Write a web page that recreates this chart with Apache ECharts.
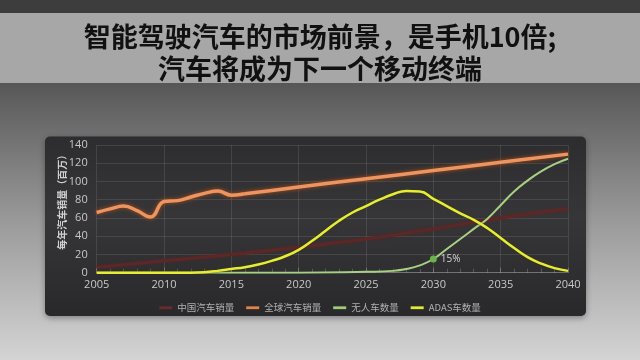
<!DOCTYPE html>
<html>
<head>
<meta charset="utf-8">
<script src="https://cdn.jsdelivr.net/npm/echarts@6/dist/echarts.min.js"></script>
<style>
  html, body { margin: 0; padding: 0; background: #3d3d3d; }
  #chart { width: 640px; height: 360px; }
</style>
</head>
<body>
<div id="chart"></div>
<script>
// Yearly sales of cars (millions), history and projection
const chinaSales = [[2005, 6], [2010, 13], [2015, 20], [2020, 28], [2025, 37], [2030, 48], [2035, 60], [2040, 70]];
const globalSales = [
  [2005, 66], [2006, 70], [2007, 73], [2008, 68], [2009, 61], [2010, 78], [2011, 79],
  [2012, 83], [2013, 87], [2014, 89.5], [2015, 85], [2016, 86.5], [2020, 94],
  [2025, 103], [2030, 112], [2035, 121], [2040, 130]
];
const driverlessCars = [
  [2005, 0], [2020, 0], [2025, 1], [2027, 2], [2028, 4], [2029, 8], [2030, 15],
  [2031, 26], [2032, 37], [2033, 48], [2034, 59], [2035, 74], [2036, 89],
  [2037, 101], [2038, 111], [2039, 119], [2040, 125]
];
const adasCars = [
  [2005, 0], [2012, 0], [2013, 0.5], [2014, 2], [2015, 4], [2016, 6], [2017, 9],
  [2018, 13], [2019, 18], [2020, 25], [2021, 35], [2022, 46], [2023, 57], [2024, 66],
  [2025, 73], [2026, 80], [2027, 86], [2028, 89.5], [2029, 89], [2030, 81], [2031, 73],
  [2032, 65], [2033, 58], [2034, 49], [2035, 38], [2036, 27], [2037, 17], [2038, 10],
  [2039, 5], [2040, 2]
];
const driverlessNote = { year: 2030, value: 15, text: '15%' };
const seriesNames = ['中国汽车销量', '全球汽车销量', '无人车数量', 'ADAS车数量'];
const titleText = '智能驾驶汽车的市场前景，是手机10倍;\n汽车将成为下一个移动终端';
const yAxisName = '每年汽车销量（百万）';

const latin = "'Open Sans','Noto Sans CJK SC',sans-serif";
const cjk = "'Noto Sans CJK SC','Noto Sans',sans-serif";
const lineIcon = 'path://M0,0 L14,0 L14,3 L0,3 Z';

const chart = echarts.init(document.getElementById('chart'), null, { renderer: 'canvas' });

chart.setOption({
  animation: false,
  title: {
    text: titleText,
    left: 'center',
    top: 16,
    textStyle: { fontFamily: cjk, fontSize: 27, fontWeight: 'bold', color: '#111', lineHeight: 32 }
  },
  graphic: [
    { type: 'rect', z: -10, shape: { x: 0, y: 0, width: 640, height: 360 }, style: { fill: '#3d3d3d' } },
    { type: 'rect', z: -10, shape: { x: 0, y: 13, width: 640, height: 70 }, style: { fill: '#a7a7a7' } },
    {
      type: 'rect', z: -10, shape: { x: 0, y: 83, width: 640, height: 277 },
      style: {
        fill: new echarts.graphic.LinearGradient(0, 0, 0, 1, [
          { offset: 0, color: '#575757' },
          { offset: 0.5, color: '#9a9a9a' },
          { offset: 1, color: '#d4d4d4' }
        ])
      }
    },
    {
      type: 'rect', z: -9, shape: { x: 45, y: 136.5, width: 541, height: 179.5, r: 5 },
      style: {
        fill: new echarts.graphic.LinearGradient(0, 0, 0, 1, [
          { offset: 0, color: '#2d2d2f' },
          { offset: 0.45, color: '#363638' },
          { offset: 1, color: '#29292b' }
        ]),
        shadowBlur: 6, shadowColor: 'rgba(0,0,0,0.35)', shadowOffsetY: 2
      }
    }
  ],
  grid: { left: 96.7, right: 72, top: 145, bottom: 87.3 },
  legend: {
    data: seriesNames.map(function (n) { return { name: n, icon: lineIcon }; }),
    left: 'center',
    top: 298,
    itemWidth: 13,
    itemHeight: 3,
    itemGap: 12,
    textStyle: { color: '#b0b0b0', fontSize: 9.5, fontFamily: cjk }
  },
  xAxis: {
    type: 'value',
    min: 2005,
    max: 2040,
    interval: 5,
    axisLine: { show: true, lineStyle: { color: 'rgba(255,255,255,0.25)' } },
    axisTick: { show: true, inside: true, length: 5, lineStyle: { color: 'rgba(255,255,255,0.25)' } },
    minorTick: { show: true, splitNumber: 5, length: 4, lineStyle: { color: 'rgba(255,255,255,0.2)' } },
    axisLabel: { color: '#c8c8c8', fontSize: 11, margin: 7, fontFamily: latin, formatter: function (v) { return String(v); } },
    splitLine: { show: true, lineStyle: { color: 'rgba(255,255,255,0.1)' } }
  },
  yAxis: {
    type: 'value',
    min: 0,
    max: 140,
    interval: 20,
    name: yAxisName,
    nameLocation: 'middle',
    nameGap: 29,
    nameRotate: 90,
    nameMoveOverlap: false,
    nameTextStyle: { color: '#d0d0d0', fontSize: 10, fontWeight: 'bold', fontFamily: cjk, padding: [0, 0, 0, 18] },
    axisLine: { show: false },
    axisTick: { show: false },
    axisLabel: { color: '#c8c8c8', fontSize: 11, margin: 9, fontFamily: latin },
    splitLine: { show: true, lineStyle: { color: 'rgba(255,255,255,0.1)' } }
  },
  series: [
    {
      name: seriesNames[0], type: 'line', data: chinaSales, symbol: 'none', smooth: 0.4,
      itemStyle: { color: '#6a2b2c' },
      lineStyle: { color: '#5c2727', width: 3, shadowBlur: 3, shadowColor: 'rgba(100,35,35,0.7)' },
      z: 2
    },
    {
      name: seriesNames[1], type: 'line', data: globalSales, symbol: 'none', smooth: 0.45,
      itemStyle: { color: '#e2834a' },
      lineStyle: { color: '#ec9560', width: 3.5, shadowBlur: 4, shadowColor: 'rgba(190,80,20,0.9)' },
      z: 3
    },
    {
      name: seriesNames[2], type: 'line', data: driverlessCars, symbol: 'none', smooth: 0.5,
      itemStyle: { color: '#9fcb7a' },
      lineStyle: { color: '#a8d084', width: 2 },
      markPoint: {
        symbol: 'circle',
        symbolSize: 7,
        itemStyle: { color: '#6cb24a' },
        label: { show: true, position: 'right', distance: 4, formatter: driverlessNote.text, color: '#d4d4d4', fontSize: 10, fontFamily: latin },
        data: [{ coord: [driverlessNote.year, driverlessNote.value] }]
      },
      z: 4
    },
    {
      name: seriesNames[3], type: 'line', data: adasCars, symbol: 'none', smooth: 0.5,
      itemStyle: { color: '#e4ea34' },
      lineStyle: { color: '#e6ec38', width: 2.5, shadowBlur: 2, shadowColor: 'rgba(60,60,0,0.8)' },
      z: 5
    }
  ]
});
</script>
</body>
</html>
